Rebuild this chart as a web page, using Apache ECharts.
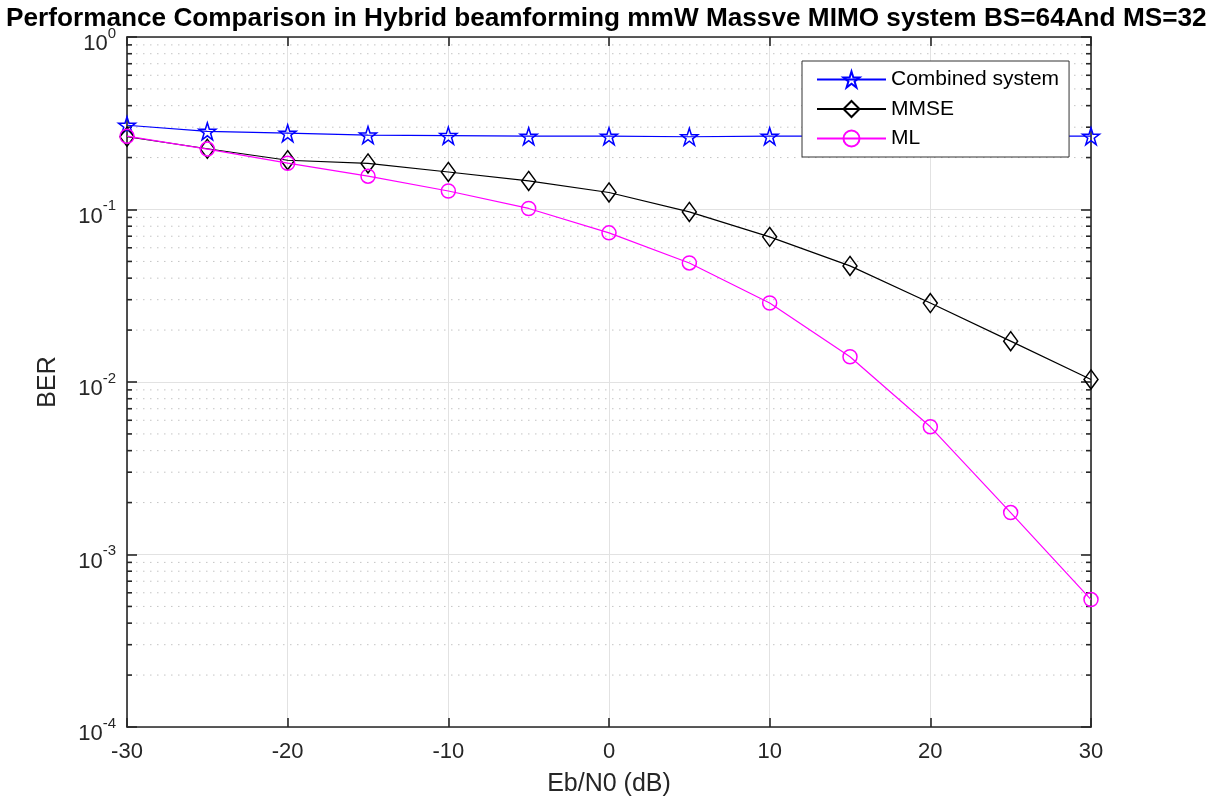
<!DOCTYPE html>
<html>
<head>
<meta charset="utf-8">
<title>BER comparison</title>
<script src="https://cdn.jsdelivr.net/npm/echarts@6/dist/echarts.min.js"></script>
<style>
  html, body { margin: 0; padding: 0; background: #fff; }
  #chart { width: 1225px; height: 805px; }
</style>
</head>
<body>
<div id="chart"></div>
<script>
// Eb/N0 sweep (dB)
const snrDb = [-30, -25, -20, -15, -10, -5, 0, 5, 10, 15, 20, 25, 30];

// Bit error rate per detector
const berCombined = [0.308, 0.284, 0.277, 0.270, 0.268, 0.266, 0.266, 0.264, 0.266, 0.266, 0.266, 0.266, 0.266];
const berMmse     = [0.264, 0.225, 0.193, 0.185, 0.165, 0.1465, 0.1255, 0.0968, 0.0694, 0.0471, 0.0287, 0.01725, 0.01035];
const berMl       = [0.266, 0.224, 0.1855, 0.156, 0.128, 0.1014, 0.0732, 0.049, 0.0287, 0.014, 0.0055, 0.00175, 0.000548];

// Axis ticks
const xTicks = [-30, -20, -10, 0, 10, 20, 30];
const yDecades = [1e-4, 1e-3, 1e-2, 1e-1, 1];

// Minor log ticks: 2..9 times each decade
const yMinor = [];
for (let d = 0; d < yDecades.length - 1; d++) {
  for (let m = 2; m <= 9; m++) yMinor.push(m * yDecades[d]);
}

const FONT = '"Liberation Sans", Arial, Helvetica, sans-serif';
const AXIS_COLOR = '#262626';
const STAR = 'path://M50,2 L61.2,36.2 L97.6,36.2 L68.2,57.6 L79.4,91.8 L50,70.6 L20.6,91.8 L31.8,57.6 L2.4,36.2 L38.8,36.2 Z';

const xMin = xTicks[0], xMax = xTicks[xTicks.length - 1];

const chart = echarts.init(document.getElementById('chart'), null, { renderer: 'canvas' });

const axisLineStyle = { color: AXIS_COLOR, width: 1.6 };

function pts(arr) { return snrDb.map((x, i) => [x, arr[i]]); }

const option = {
  backgroundColor: '#ffffff',
  animation: false,
  title: {
    text: 'Performance Comparison in Hybrid beamforming mmW Massve MIMO system BS=64And MS=32',
    left: 1,
    top: 1,
    textStyle: { fontFamily: FONT, fontSize: 26.2, fontWeight: 'bold', color: '#000' }
  },
  legend: {
    orient: 'vertical',
    left: 802,
    top: 61,
    padding: [8, 10, 8, 14],
    itemGap: 8.5,
    itemWidth: 69,
    itemHeight: 20,
    backgroundColor: '#fff',
    borderColor: '#333',
    borderWidth: 1,
    borderRadius: 0,
    textStyle: { fontFamily: FONT, fontSize: 21, color: '#000', lineHeight: 20 },
    data: ['Combined system', 'MMSE', 'ML']
  },
  grid: { left: 127, right: 134, top: 37, bottom: 78, containLabel: false },
  xAxis: [
    {
      type: 'value', min: xMin, max: xMax, interval: 10, position: 'bottom',
      name: 'Eb/N0 (dB)', nameLocation: 'middle', nameGap: 45,
      nameTextStyle: { fontFamily: FONT, fontSize: 25, color: AXIS_COLOR },
      axisLine: { show: true, onZero: false, lineStyle: axisLineStyle },
      axisTick: { show: true, inside: true, length: 9, lineStyle: { color: AXIS_COLOR, width: 1.6 } },
      axisLabel: { fontFamily: FONT, fontSize: 22, color: AXIS_COLOR, margin: 14 },
      splitLine: { show: true, lineStyle: { color: '#e2e2e2', width: 1 } }
    },
    {
      type: 'value', min: xMin, max: xMax, interval: 10, position: 'top',
      axisLine: { show: true, onZero: false, lineStyle: axisLineStyle },
      axisTick: { show: true, inside: true, length: 9, lineStyle: { color: AXIS_COLOR, width: 1.6 } },
      axisLabel: { show: false },
      splitLine: { show: false }
    }
  ],
  yAxis: [
    {
      type: 'log', logBase: 10, min: 1e-4, max: 1, position: 'left',
      name: 'BER', nameLocation: 'middle', nameGap: 66,
      nameTextStyle: { fontFamily: FONT, fontSize: 25, color: AXIS_COLOR },
      axisLine: { show: true, onZero: false, lineStyle: axisLineStyle },
      axisTick: { show: true, inside: true, length: 10, lineStyle: { color: AXIS_COLOR, width: 1.6 } },
      axisLabel: {
        margin: 11,
        padding: [7, 0, 0, 0],
        formatter: v => '{b|10}{s|' + Math.round(Math.log10(v)) + '}',
        rich: {
          b: { fontFamily: FONT, fontSize: 22, color: AXIS_COLOR, lineHeight: 29, verticalAlign: 'bottom' },
          s: { fontFamily: FONT, fontSize: 15, color: AXIS_COLOR, lineHeight: 15, verticalAlign: 'top' }
        }
      },
      splitLine: { show: true, lineStyle: { color: '#e2e2e2', width: 1 } }
    },
    {
      type: 'log', logBase: 10, min: 1e-4, max: 1, position: 'right',
      axisLine: { show: true, onZero: false, lineStyle: axisLineStyle },
      axisTick: { show: true, inside: true, length: 10, lineStyle: { color: AXIS_COLOR, width: 1.6 } },
      axisLabel: { show: false },
      splitLine: { show: false }
    }
  ],
  series: [
    {
      // dotted minor grid and minor ticks at 2..9 x 10^k
      type: 'custom',
      name: 'minor',
      silent: true,
      z: 1,
      xAxisIndex: 0, yAxisIndex: 0,
      data: yMinor.map(v => [xMin, v]),
      renderItem: function (params, api) {
        const v = api.value(1);
        const p0 = api.coord([xMin, v]);
        const p1 = api.coord([xMax, v]);
        const tick = 5;
        return {
          type: 'group',
          children: [
            { type: 'line', shape: { x1: p0[0] + 2, y1: p0[1], x2: p1[0] - 2, y2: p1[1] },
              style: { stroke: '#c4c4c4', lineWidth: 1, lineDash: [1.5, 5.5] } },
            { type: 'line', shape: { x1: p0[0], y1: p0[1], x2: p0[0] + tick, y2: p0[1] },
              style: { stroke: AXIS_COLOR, lineWidth: 1.6 } },
            { type: 'line', shape: { x1: p1[0] - tick, y1: p1[1], x2: p1[0], y2: p1[1] },
              style: { stroke: AXIS_COLOR, lineWidth: 1.6 } }
          ]
        };
      }
    },
    {
      name: 'Combined system', type: 'line', z: 3,
      data: pts(berCombined),
      symbol: STAR, symbolSize: 17, showAllSymbol: true,
      lineStyle: { color: '#0000ff', width: 1.2 },
      itemStyle: { color: 'rgba(0,0,0,0)', borderColor: '#0000ff', borderWidth: 1.5 }
    },
    {
      name: 'MMSE', type: 'line', z: 4,
      data: pts(berMmse),
      symbol: 'diamond', symbolSize: [14, 19], showAllSymbol: true,
      lineStyle: { color: '#000000', width: 1.2 },
      itemStyle: { color: 'rgba(0,0,0,0)', borderColor: '#000000', borderWidth: 1.5 }
    },
    {
      name: 'ML', type: 'line', z: 5,
      data: pts(berMl),
      symbol: 'circle', symbolSize: 14, showAllSymbol: true,
      lineStyle: { color: '#ff00ff', width: 1.2 },
      itemStyle: { color: 'rgba(0,0,0,0)', borderColor: '#ff00ff', borderWidth: 1.5 }
    }
  ]
};

chart.setOption(option);
</script>
</body>
</html>
